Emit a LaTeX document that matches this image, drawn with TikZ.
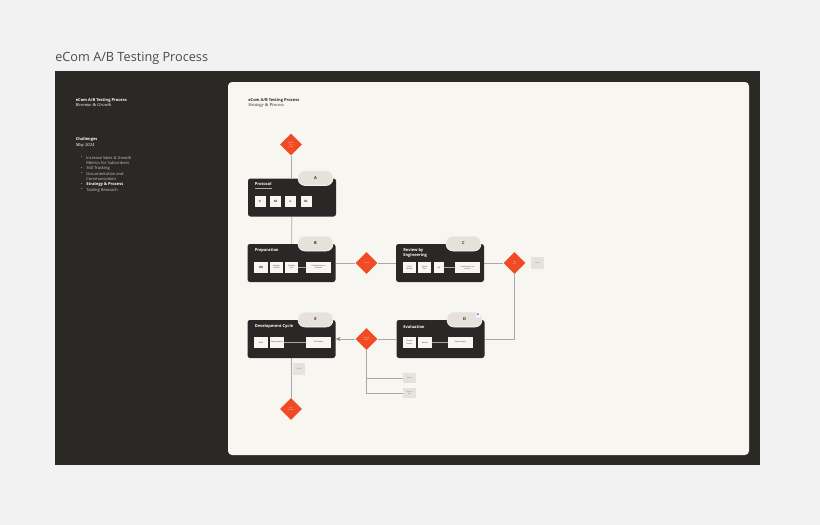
\documentclass[tikz,border=0pt]{standalone}
\usepackage{fontspec}
\setmainfont{Open Sans}
\newfontfamily\serifit{Liberation Serif}
\usetikzlibrary{arrows,shapes.geometric}
\definecolor{pagebg}{HTML}{F2F2F2}
\definecolor{panel}{HTML}{2B2926}
\definecolor{card}{HTML}{F8F6F0}
\definecolor{blockdark}{HTML}{2A2826}
\definecolor{tabgray}{HTML}{E6E1DB}
\definecolor{itemwhite}{HTML}{F8F6F1}
\definecolor{signal}{HTML}{F04B25}
\definecolor{notegray}{HTML}{E5E1DC}
\definecolor{linegray}{HTML}{A9A8A3}
\definecolor{titlegray}{HTML}{4A4A4A}
\definecolor{sidetext}{HTML}{C9C7C3}

\begin{document}
\begin{tikzpicture}[x=1pt,y=-1pt,>=stealth',line width=0.7pt]
  \tikzstyle{block}=[fill=blockdark, rounded corners=2.5pt, minimum width=88pt,
                     minimum height=38pt, inner sep=0pt]
  \tikzstyle{tab}=[fill=tabgray, draw=card, line width=0.6pt, rounded corners=7pt,
                   minimum width=35pt, minimum height=15pt, inner sep=0pt,
                   font=\fontsize{4}{4}\selectfont\bfseries, text=blockdark]
  \tikzstyle{label}=[anchor=west, inner sep=0pt, text=white,
                     font=\fontsize{4}{5}\selectfont\bfseries, align=left]
  \tikzstyle{decision}=[diamond, fill=signal, minimum width=22pt, minimum height=22pt,
                        inner sep=0pt, text=white!75!signal, align=center,
                        font=\fontsize{1.8}{2.1}\selectfont]
  \tikzstyle{item}=[fill=itemwhite, minimum height=11pt, inner sep=0pt, align=center,
                    text=blockdark, font=\fontsize{1.8}{2.1}\selectfont]
  \tikzstyle{sizebox}=[item, minimum width=11pt, font=\fontsize{3}{3}\selectfont\bfseries]
  \tikzstyle{note}=[fill=notegray, minimum width=13pt, minimum height=11pt, inner sep=0pt,
                    text=gray, font=\fontsize{1.8}{2.1}\selectfont, align=center]
  \tikzstyle{link}=[draw=linegray]
  \tikzstyle{side}=[anchor=west, inner sep=0pt, text=sidetext, font=\fontsize{4}{5}\selectfont]

  % page, panel and card
  \fill[pagebg] (0,0) rectangle (820,525);
  \useasboundingbox (0,0) rectangle (820,525);
  \fill[panel] (55,71) rectangle (760,465);
  \fill[card, rounded corners=4pt] (228,82) rectangle (749,455);

  \node[anchor=base west, inner sep=0pt, text=titlegray, font=\fontsize{12.7}{15}\selectfont]
    (title) at (55,61.7) {eCom A/B Testing Process};

  % side panel
  \node[side, text=white, font=\fontsize{4}{5}\selectfont\bfseries] (sidehead) at (75.5,100) {eCom A/B Testing Process};
  \node[side, text=white, font=\fontsize{4.6}{5}\serifit\itshape] (sidesub) at (75.5,105) {Revenue \& Growth};
  \node[side, text=white, font=\fontsize{4}{5}\selectfont\bfseries] (challenges) at (75.5,139) {Challenges};
  \node[side, text=white, font=\fontsize{4.6}{5}\serifit\itshape] (month) at (75.5,145) {May 2024};
  \node[side] (b1)  at (80.5,157.7) {\textbullet};
  \node[side] (t1)  at (86,157.7)   {Increase Sales \& Growth};
  \node[side] (t1b) at (86,163.2)   {Metrics for Subscribers};
  \node[side] (b2)  at (80.5,168.6) {\textbullet};
  \node[side] (t2)  at (86,168.6)   {360 Tracking};
  \node[side] (b3)  at (80.5,174)   {\textbullet};
  \node[side] (t3)  at (86,174)     {Documentation and};
  \node[side] (t3b) at (86,179.3)   {Communication};
  \node[side] (b4)  at (80.5,184.7) {\textbullet};
  \node[side, text=white, font=\fontsize{4}{5}\selectfont\bfseries] (t4) at (86,184.7) {Strategy \& Process};
  \node[side] (b5)  at (80.5,190)   {\textbullet};
  \node[side] (t5)  at (86,190)     {Tooling Research};

  % card header
  \node[side, text=blockdark, font=\fontsize{4}{5}\selectfont\bfseries] (cardhead) at (248,100) {eCom A/B Testing Process};
  \node[side, text=blockdark, font=\fontsize{4.6}{5}\serifit\itshape] (cardsub) at (248,105) {Strategy \& Process};

  % blocks
  \node[block] (proto)  at (292,197.5) {};
  \node[block] (prep)   at (291.5,263) {};
  \node[block] (review) at (440,263)   {};
  \node[block] (eval)   at (440.5,339) {};
  \node[block] (dev)    at (291.5,339) {};

  \node[tab] (taba) at (315.5,178)   {A};
  \node[tab] (tabb) at (315.5,243.5) {B};
  \node[tab] (tabc) at (463.5,243.5) {C};
  \node[tab] (tabd) at (464.5,319.5) {D};
  \node[tab] (tabe) at (315.5,319.5) {E};
  \node[fill=white, rounded corners=0.8pt, inner sep=0pt, minimum size=4pt, text=blue!70!cyan,
        font=\fontsize{5}{5}\selectfont\bfseries] (plus) at (478,315.5) {+};

  \node[label] (protolabel)  at (254.5,184) {Protocol};
  \draw[linegray, line width=0.4pt] (254.5,188.5) -- (272,188.5);
  \node[label] (preplabel)   at (254.5,250) {Preparation};
  \node[label] (reviewlabel) at (403,253)   {Review by\\Engineering};
  \node[label] (evallabel)   at (403,326.5) {Evaluation};
  \node[label] (devlabel)    at (254.5,326.5) {Development Cycle};

  % protocol sizes
  \node[sizebox] (sizes) at (260,201.5)   {S};
  \node[sizebox] (sizem) at (275.5,201.5) {M};
  \node[sizebox] (sizel) at (290.5,201.5) {L};
  \node[sizebox] (sizexl) at (306,201.5)  {XL};

  % preparation items
  \node[item, minimum width=14pt, font=\fontsize{3}{3}\selectfont\bfseries] (ux) at (261,267) {UX};
  \node[item, minimum width=13pt] (analytics) at (276.5,267) {Analytics\\Review};
  \node[item, minimum width=13pt] (tracking)  at (291.5,267) {Tracking\\Lists};
  \node[item, minimum width=25pt] (variants)  at (318.5,267) {Confirmation on\\Variants};

  % review items
  \node[item, minimum width=13pt] (codereview) at (409.5,267.5) {Code\\Review};
  \node[item, minimum width=13pt] (speedtest)  at (424.5,267.5) {Speed\\Test};
  \node[item, minimum width=10pt] (qa)         at (439,267.5)   {QA};
  \node[item, minimum width=25pt] (launch)     at (467.5,267.5) {Confirmation on\\Launch};

  % evaluation items
  \node[item, minimum width=13pt] (results) at (409.5,342.5) {Results\\Report};
  \node[item, minimum width=14pt] (metrics) at (425,342.5)   {Metrics};
  \node[item, minimum width=25pt] (analysis) at (460.5,342.5) {Data Analysis};

  % development items
  \node[item, minimum width=14pt] (build)  at (261,342.5)   {Build};
  \node[item, minimum width=14pt] (deploy) at (277,342.5)   {Deploy Variant};
  \node[item, minimum width=25pt] (ready)  at (318.5,342.5) {Test Ready};

  % decisions
  \node[decision] (topdec)    at (291,144.5) {Define\\Test\\Goals};
  \node[decision] (prepdec)   at (366.5,263) {Ready?};
  \node[decision] (reviewdec) at (514.5,263) {Go\\Live};
  \node[decision] (evaldec)   at (366.5,339) {Result\\Valid?};
  \node[decision] (enddec)    at (291,409)   {Ship\\Winner};

  % notes
  \node[note, minimum height=12pt] (reviewnote) at (537.5,263) {Note};
  \node[note, minimum width=12pt, minimum height=12pt] (devnote) at (299,369) {Note};
  \node[note, minimum height=10pt] (evalnote1) at (409.5,378) {Iterate};
  \node[note, minimum height=10pt] (evalnote2) at (409.5,393) {Archive\\Test};
  \coordinate (branch) at (evaldec.south |- evalnote1.west);

  % connectors
  \path[link] (topdec) edge (topdec |- proto.north)
        (proto) edge (prep)
        (prep) edge (prepdec)
        (prepdec) edge (review)
        (review) edge (reviewdec)
        (reviewdec.south) edge [to path={|- (\tikztotarget)}] (eval.east)
        (eval) edge (evaldec)
        (evaldec) edge [->] (dev)
        (evaldec.south) edge [to path={|- (\tikztotarget)}] (evalnote2.west)
        (branch) edge (evalnote1.west)
        (dev.south -| enddec) edge (enddec);
  \path[link, line width=0.5pt] (tracking) edge (variants)
        (qa) edge (launch)
        (metrics) edge (analysis)
        (deploy) edge (ready);
\end{tikzpicture}
\end{document}
